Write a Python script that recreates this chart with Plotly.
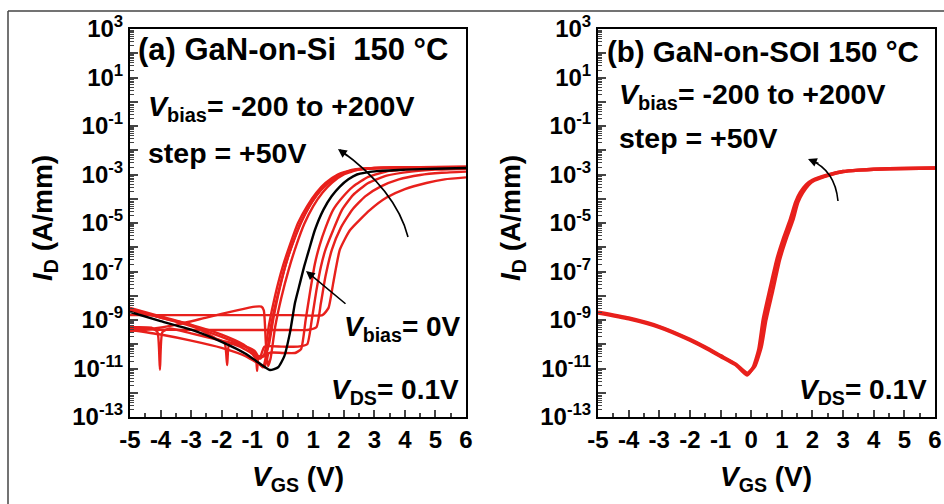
import numpy as np
import plotly.graph_objects as go

# ---------------- data (log10 of I_D in A/mm) ----------------
# Panel (a) GaN-on-Si, 150 C
a_black_v = [-5, -4, -3, -2, -1.2, -0.8, -0.42, -0.15, 0.05, 0.24, 0.4, 0.56, 0.7, 0.85, 1.05, 1.33, 1.6, 1.87, 2.15, 2.43, 3.08, 4.0, 5.0, 6.0]
a_black_log = [-8.67, -9.05, -9.4, -9.9, -10.4, -10.75, -11.06, -10.95, -10.5, -9.5, -8.3, -7.5, -6.8, -6.15, -5.3, -4.46, -3.9, -3.5, -3.2, -3.0, -2.86, -2.8, -2.76, -2.73]

a_red1_v = [-5, -4.3, -4.1, -4.02, -3.94, -3.7, -3, -2, -1.2, -0.9, -0.75, -0.6, -0.45, -0.25, 0.0, 0.25, 0.5, 0.8, 1.1, 1.4, 1.8, 2.3, 3.0, 4.5, 6.0]
a_red1_log = [-9.3, -9.32, -9.5, -11.05, -9.5, -9.35, -9.55, -9.85, -10.1, -10.3, -10.6, -10.4, -9.2, -8.0, -6.8, -5.85, -5.0, -4.3, -3.75, -3.35, -3.0, -2.8, -2.73, -2.7, -2.69]

a_red2_v = [-5, -4, -3, -2.2, -1.9, -1.82, -1.75, -1.4, -1.0, -0.8, -0.65, -0.5, -0.35, -0.15, 0.1, 0.35, 0.6, 0.9, 1.2, 1.5, 1.9, 2.4, 3.2, 6.0]
a_red2_log = [-8.5, -8.85, -9.2, -9.75, -9.95, -10.86, -9.98, -10.1, -10.4, -10.75, -10.95, -10.2, -9.0, -7.9, -6.7, -5.75, -4.95, -4.25, -3.7, -3.3, -2.98, -2.8, -2.72, -2.68]

a_red3_v = [-5, -4.5, -3.5, -2.5, -1.5, -0.9, -0.7, -0.62, -0.55, -0.48, -0.4, -0.25, -0.05, 0.2, 0.45, 0.7, 1.0, 1.3, 1.6, 2.0, 2.5, 3.3, 6.0]
a_red3_log = [-9.45, -9.4, -9.2, -8.9, -8.6, -8.45, -8.45, -8.6, -10.0, -10.9, -10.6, -9.3, -8.1, -6.9, -5.9, -5.05, -4.3, -3.75, -3.35, -3.0, -2.8, -2.73, -2.7]

a_red4_v = [-5, -4, -3, -2, -1.3, -1.0, -0.88, -0.84, -0.79, -0.6, -0.45, -0.3, -0.1, 0.15, 0.4, 0.65, 0.95, 1.25, 1.6, 2.0, 2.5, 3.3, 6.0]
a_red4_log = [-8.6, -8.9, -9.25, -9.7, -10.05, -10.3, -10.5, -11.1, -10.5, -10.5, -10.0, -8.9, -7.7, -6.5, -5.6, -4.85, -4.15, -3.65, -3.25, -2.95, -2.78, -2.72, -2.69]

a_red5_v = [-5, -4, -3, -2, -1.2, -0.8, -0.6, -0.45, 0.0, 0.4, 0.6, 0.75, 0.9, 1.05, 1.2, 1.4, 1.65, 1.95, 2.3, 2.8, 3.5, 4.5, 6.0]
a_red5_log = [-9.4, -9.6, -9.85, -10.15, -10.5, -10.8, -10.95, -10.36, -10.36, -10.36, -10.2, -9.0, -7.8, -6.7, -5.95, -5.2, -4.46, -3.95, -3.5, -3.1, -2.85, -2.76, -2.72]

a_red6_v = [-5, -4, -3, -2, -1.3, -0.95, -0.75, -0.6, 0.0, 0.5, 0.8, 0.95, 1.1, 1.25, 1.4, 1.65, 1.94, 2.3, 2.8, 3.4, 4.2, 5.0, 6.0]
a_red6_log = [-8.55, -8.9, -9.2, -9.6, -10.0, -10.35, -10.55, -10.1, -10.1, -10.1, -10.0, -9.0, -7.8, -6.8, -6.1, -5.3, -4.46, -3.85, -3.35, -3.05, -2.88, -2.8, -2.76]

a_red7_v = [-5, -4, -2, 0.0, 0.8, 1.1, 1.25, 1.4, 1.61, 1.9, 2.27, 2.7, 3.2, 3.8, 4.5, 5.2, 6.0]
a_red7_log = [-9.35, -9.4, -9.41, -9.41, -9.41, -9.3, -8.3, -7.2, -6.1, -5.2, -4.46, -3.9, -3.5, -3.2, -3.02, -2.93, -2.88]

a_red8_v = [-5, -3, -1, 0.5, 1.3, 1.5, 1.65, 1.87, 2.2, 2.86, 3.4, 4.0, 4.7, 5.3, 6.0]
a_red8_log = [-8.8, -8.8, -8.8, -8.8, -8.8, -8.5, -7.5, -6.1, -5.3, -4.46, -3.95, -3.6, -3.35, -3.2, -3.12]

# Panel (b) GaN-on-SOI, 150 C
b_main_v = [-5, -4, -3, -2, -1.5, -1.0, -0.5, -0.14, 0.07, 0.25, 0.39, 0.6, 0.84, 1.05, 1.27, 1.45, 1.6, 1.8, 2.0, 2.5, 3.0, 3.5, 4.0, 5.0, 6.0]
b_main_log = [-8.71, -8.95, -9.3, -9.83, -10.15, -10.5, -10.85, -11.27, -10.94, -10.2, -9.0, -7.8, -6.5, -5.65, -4.88, -4.15, -3.75, -3.42, -3.24, -3.02, -2.88, -2.82, -2.78, -2.75, -2.73]
b_alt_v = [-5, -4, -3, -2, -1.5, -1.0, -0.5, -0.12, 0.12, 0.33, 0.48, 0.7, 0.93, 1.14, 1.36, 1.52, 1.68, 1.87, 2.06, 2.55, 3.0, 3.5, 4.0, 5.0, 6.0]
b_alt_log = [-8.68, -8.92, -9.27, -9.8, -10.12, -10.47, -10.82, -11.2, -10.9, -10.1, -9.0, -7.8, -6.5, -5.65, -4.88, -4.15, -3.75, -3.42, -3.24, -3.02, -2.88, -2.82, -2.78, -2.75, -2.73]

x_ticks = [-5, -4, -3, -2, -1, 0, 1, 2, 3, 4, 5, 6]
y_exps = list(range(-13, 4))

# ---------------- styling ----------------
W, H = 944, 504
RED = "#e8201c"
FONT = "Liberation Sans, Arial, sans-serif"


def px(x):
    return x / W


def py(y):
    return 1 - y / H


fig = go.Figure()

red_sets = [
    (a_red1_v, a_red1_log), (a_red2_v, a_red2_log), (a_red3_v, a_red3_log), (a_red4_v, a_red4_log),
    (a_red5_v, a_red5_log), (a_red6_v, a_red6_log), (a_red7_v, a_red7_log), (a_red8_v, a_red8_log),
]
for v, lg in red_sets:
    fig.add_trace(go.Scatter(x=v, y=np.power(10.0, lg), mode="lines", xaxis="x", yaxis="y",
                             line=dict(color=RED, width=2.4, shape="spline", smoothing=0.5),
                             showlegend=False, hoverinfo="skip"))
fig.add_trace(go.Scatter(x=a_black_v, y=np.power(10.0, a_black_log), mode="lines", xaxis="x", yaxis="y",
                         line=dict(color="black", width=2.4, shape="spline", smoothing=0.5),
                         showlegend=False, hoverinfo="skip"))

for v, lg, w in [(b_main_v, b_main_log, 3.5), (b_alt_v, b_alt_log, 3.5)]:
    fig.add_trace(go.Scatter(x=v, y=np.power(10.0, lg), mode="lines", xaxis="x2", yaxis="y2",
                             line=dict(color=RED, width=w, shape="spline", smoothing=0.5),
                             showlegend=False, hoverinfo="skip"))

tickfont = dict(family=FONT, size=24, color="black", weight="bold")
y_tickvals = [10.0 ** k for k in y_exps]
y_ticktext = [("10<sup>%d</sup>" % k) if k % 2 != 0 else "" for k in y_exps]
y_minor = [m * 10.0 ** k for k in range(-13, 3) for m in range(2, 10)]


def xaxis_cfg(domain, anchor):
    return dict(domain=domain, anchor=anchor, range=[-5, 6], tickmode="array", tickvals=x_ticks,
                ticktext=[str(t) for t in x_ticks], ticks="inside", ticklen=7, tickwidth=2,
                minor=dict(tickmode="linear", tick0=-5, dtick=0.5, ticks="inside", ticklen=4, tickwidth=1.5,
                           showgrid=False),
                showline=True, linewidth=2, linecolor="black", mirror=True, showgrid=False, zeroline=False,
                tickfont=tickfont, fixedrange=True, automargin=False)


def yaxis_cfg(domain, anchor):
    return dict(domain=domain, anchor=anchor, type="log", range=[-13, 3], tickmode="array",
                tickvals=y_tickvals, ticktext=y_ticktext, ticks="inside", ticklen=8, tickwidth=2,
                minor=dict(tickmode="array", tickvals=y_minor, ticks="inside", ticklen=4, tickwidth=1.2,
                           showgrid=False),
                showline=True, linewidth=2, linecolor="black", mirror=True, showgrid=False, zeroline=False,
                tickfont=tickfont, fixedrange=True, automargin=False)


ydom = [py(417), py(29)]
fig.update_layout(
    template="none",
    width=W, height=H, margin=dict(l=0, r=0, t=0, b=0, pad=0, autoexpand=False),
    paper_bgcolor="white", plot_bgcolor="white",
    xaxis=xaxis_cfg([px(130), px(466)], "y"),
    yaxis=yaxis_cfg(ydom, "x"),
    xaxis2=xaxis_cfg([px(598), px(935)], "y2"),
    yaxis2=yaxis_cfg(ydom, "x2"),
    showlegend=False,
)

ann = []


def text(x, y, s, size=28, anchor="left", angle=0):
    ann.append(dict(x=px(x), y=py(y), xref="paper", yref="paper", text=s, showarrow=False,
                    xanchor=anchor, yanchor="middle", textangle=angle,
                    font=dict(family=FONT, size=size, color="black", weight="bold")))


text(136, 50, "(a) GaN-on-Si\u00a0\u00a0150\u00a0\u00b0C", size=31)
text(146, 108, "<i>V</i><sub>bias</sub>= -200 to +200V", size=28.5)
text(146, 153, "step = +50V", size=28.5)
text(342, 328, "<i>V</i><sub>bias</sub>= 0V", size=28)
text(329, 391, "<i>V</i><sub>DS</sub>= 0.1V", size=28)

text(605, 52, "(b) GaN-on-SOI 150 \u00b0C", size=29.5)
text(617, 96, "<i>V</i><sub>bias</sub>= -200 to +200V", size=28.5)
text(617, 138, "step = +50V", size=28.5)
text(797, 391, "<i>V</i><sub>DS</sub>= 0.1V", size=28)

text(44, 218, "<i>I</i><sub>D</sub> (A/mm)", size=28, anchor="center", angle=-90)
text(512, 218, "<i>I</i><sub>D</sub> (A/mm)", size=28, anchor="center", angle=-90)
text(298, 478, "<i>V</i><sub>GS</sub> (V)", size=28, anchor="center")
text(766, 478, "<i>V</i><sub>GS</sub> (V)", size=28, anchor="center")


def arrowhead(hx, hy, dx, dy):
    # arrow whose head sits at (hx, hy) pixels, tail offset (dx, dy) pixels
    ann.append(dict(x=px(hx), y=py(hy), xref="paper", yref="paper", ax=dx, ay=dy, axref="pixel",
                    ayref="pixel", text="", showarrow=True, arrowhead=2, arrowsize=1.1, arrowwidth=1.6,
                    arrowcolor="black"))


arrowhead(338, 149, 11, 8)
arrowhead(808, 159, 12, 5)
arrowhead(306, 271, 41, 34)

fig.update_layout(annotations=ann)

shapes = [
    # figure frame (left and top edges)
    dict(type="line", xref="paper", yref="paper", x0=px(8), y0=0, x1=px(8), y1=py(11),
         line=dict(color="#444", width=1.5)),
    dict(type="line", xref="paper", yref="paper", x0=px(8), y0=py(11), x1=1, y1=py(11),
         line=dict(color="#444", width=1.5)),
    # curved arrow bodies
    dict(type="path", xref="paper", yref="paper",
         path="M %f,%f Q %f,%f %f,%f" % (px(408), py(237), px(396), py(190), px(340), py(150)),
         line=dict(color="black", width=1.6)),
    dict(type="path", xref="paper", yref="paper",
         path="M %f,%f Q %f,%f %f,%f" % (px(838), py(201), px(835), py(170), px(810), py(160)),
         line=dict(color="black", width=1.6)),
]
fig.update_layout(shapes=shapes)

fig.write_html("out.html")
